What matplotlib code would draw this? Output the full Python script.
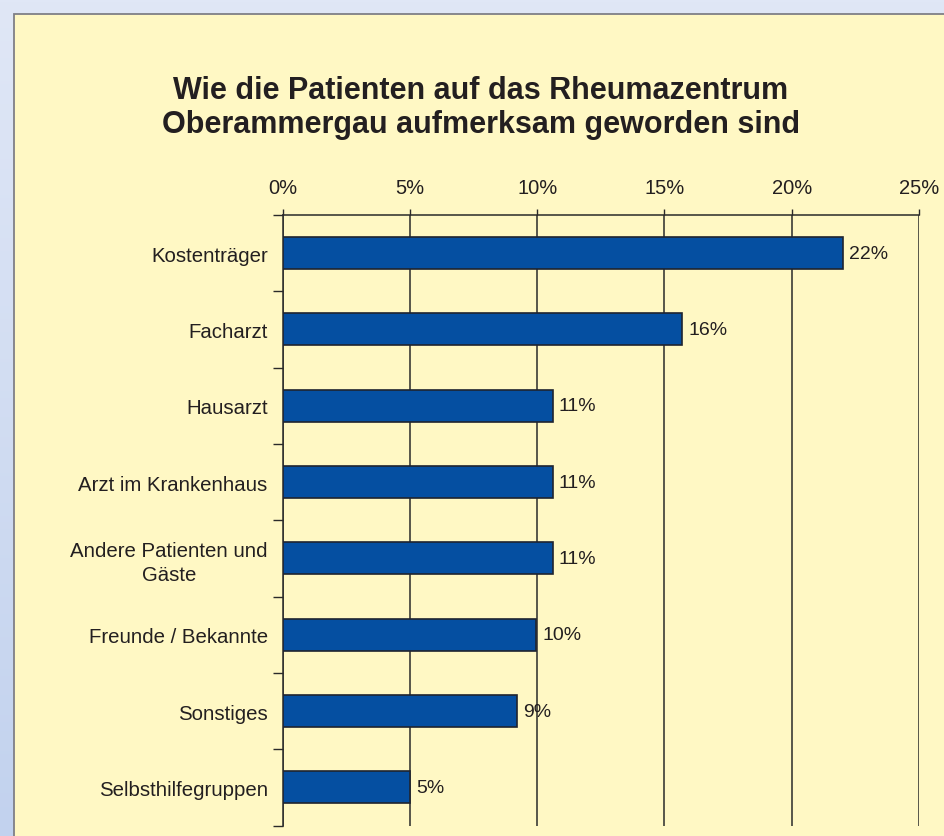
import matplotlib
matplotlib.use("Agg")
import matplotlib.pyplot as plt
import numpy as np
from matplotlib.patches import Rectangle
from matplotlib.ticker import FixedLocator

# Data
categories = [
    "Kostenträger",
    "Facharzt",
    "Hausarzt",
    "Arzt im Krankenhaus",
    "Andere Patienten und\nGäste",
    "Freunde / Bekannte",
    "Sonstiges",
    "Selbsthilfegruppen",
]
shares = [22.0, 15.7, 10.6, 10.6, 10.6, 9.95, 9.2, 5.0]
share_labels = ["22%", "16%", "11%", "11%", "11%", "10%", "9%", "5%"]
x_ticks = [0, 5, 10, 15, 20, 25]
x_tick_labels = ["0%", "5%", "10%", "15%", "20%", "25%"]
title = "Wie die Patienten auf das Rheumazentrum\nOberammergau aufmerksam geworden sind"

_YELLOW = "#fff8c4"
_BAR = "#054fa1"
_TEXT = "#231f20"
_GRID = "#2a2a2a"

plt.rcParams["font.family"] = ["Liberation Sans", "DejaVu Sans"]

W, H = 944, 837
fig = plt.figure(figsize=(W / 100, H / 100), dpi=100)

# blue gradient background
bg = fig.add_axes([0, 0, 1, 1], zorder=-10)
grad = np.linspace(0, 1, 256).reshape(-1, 1)
cmap = matplotlib.colors.LinearSegmentedColormap.from_list("bg", ["#e0e7f6", "#c2d2ee"])
bg.imshow(grad, aspect="auto", cmap=cmap, extent=[0, 1, 0, 1], origin="upper")
bg.set_axis_off()

# yellow panel (extends past right/bottom edges)
panel = Rectangle((13.5 / W, -0.1), 1.2, 1 - 14.5 / H + 0.1, transform=fig.transFigure,
                  facecolor=_YELLOW, edgecolor="#7f7f86", linewidth=1.3, zorder=-5)
fig.patches.append(panel)

fig.text(481 / W, 1 - 108 / H, title, ha="center", va="center",
         fontsize=22, fontweight="bold", color=_TEXT, linespacing=1.14)

left, right = 283 / W, 918.8 / W
top, bottom = 1 - 216 / H, 1 - 826.5 / H
ax = fig.add_axes([left, bottom, right - left, top - bottom])
ax.set_facecolor("none")

y = np.arange(len(categories))
ax.barh(y, shares, height=0.42, color=_BAR, edgecolor="#1f2430", linewidth=1.2, zorder=3)

for yi, v, lab in zip(y, shares, share_labels):
    ax.text(v + 0.25, yi, lab, va="center", ha="left", fontsize=14, color=_TEXT, zorder=4)

ax.set_xlim(0, 25)
ax.set_ylim(len(categories) - 0.5, -0.5)

ax.xaxis.tick_top()
ax.set_xticks(x_ticks)
ax.set_xticklabels(x_tick_labels, fontsize=14.5, color=_TEXT)
ax.tick_params(axis="x", length=4, width=1, color=_GRID, pad=9)
ax.grid(axis="x", color=_GRID, linewidth=1.1, zorder=1)

ax.set_yticks(y)
ax.set_yticklabels(categories, fontsize=14.7, color=_TEXT, multialignment="center",
                   linespacing=1.3)
ax.tick_params(axis="y", which="major", length=0, pad=11)
ax.yaxis.set_minor_locator(FixedLocator(np.arange(-0.5, len(categories), 1.0)))
ax.tick_params(axis="y", which="minor", length=7, width=1, color=_GRID)

for side in ["right", "bottom"]:
    ax.spines[side].set_visible(False)
for side in ["left", "top"]:
    ax.spines[side].set_color(_GRID)
    ax.spines[side].set_linewidth(1.1)

fig.savefig("out.png", dpi=100)
